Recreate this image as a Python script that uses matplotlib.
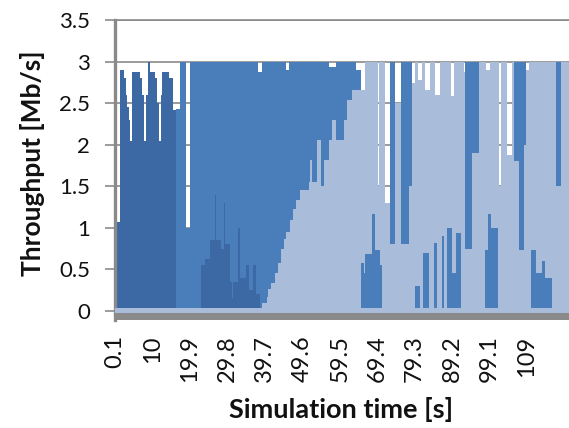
import numpy as np
import matplotlib.pyplot as plt

plt.rcParams['font.family'] = ['Lato', 'DejaVu Sans']

t_end = 120.1

# flow 1 (dark), bottom of the stack
d_t = [0.1, 1.5, 2.4, 2.9, 3.3, 3.8, 4.0, 4.5, 6.6, 7.3, 7.8, 8.3, 8.7, 8.9, 9.3,
       10.6, 11.3, 11.7, 12.2, 12.6, 14.3, 15.3, 16.3, 22.8, 24.0, 25.3, 26.5,
       26.8, 28.0, 29.0, 29.3, 30.5, 31.0, 31.4, 32.6, 33.1, 34.6, 35.4, 36.7,
       37.5, 38.5]
d_v = [1.07, 2.9, 2.8, 2.6, 2.45, 2.3, 2.04, 2.88, 2.8, 2.6, 2.04, 2.6, 2.88, 3.0, 2.88,
       2.8, 2.5, 2.04, 2.6, 2.88, 2.8, 2.42, 0, 0.55, 0.62, 0.85, 1.4,
       0.85, 0.75, 1.3, 0.8, 0.35, 0.15, 0.35, 1.0, 0.4, 0.55, 0.25, 0.55,
       0.2, 0]

# flow 2 (medium) when it sits under flow 3
mb_t = [0.1, 65.0, 65.9, 66.3, 68.1, 68.9, 70.1, 70.7, 79.4, 80.8, 81.6, 83.0,
        84.3, 85.2, 86.4, 87.0, 87.9, 89.1, 90.3, 91.6, 97.8, 98.7, 99.6, 101.3,
        110.0, 111.3, 113.0, 113.8, 115.7]
mb_v = [0, 0.57, 0.45, 0.69, 1.16, 0.73, 0.55, 0, 0.3, 0, 0.7, 0,
        0.82, 0, 0.9, 0, 1.0, 0.45, 0.94, 0, 0.73, 1.16, 1.0, 0,
        0.73, 0.45, 0.6, 0.4, 0]

# flow 3 (light)
l_t = [0.1, 38.9, 40.2, 40.5, 41.4, 42.3, 43.2, 44.1, 44.8, 45.4, 46.3, 47.2, 48.0,
       48.9, 51.4, 51.6, 52.2, 53.4, 54.5, 55.3, 56.6, 57.5, 58.4, 60.6, 61.5, 62.8,
       65.0, 65.9, 66.3, 68.1, 68.9, 69.5, 70.0, 70.1, 70.7, 71.4, 72.8, 74.2, 75.6,
       77.7, 78.5, 79.4, 80.3, 80.8, 81.2, 81.6, 82.1, 83.0, 83.4, 84.3, 84.7, 85.2,
       86.0, 86.4, 87.0, 87.9, 88.8, 89.1, 89.7, 90.3, 91.6, 92.3, 92.6, 92.7, 94.4,
       96.2, 97.8, 98.2, 98.7, 99.1, 99.6, 101.3, 101.5, 102.0, 103.6, 105.1, 105.6,
       106.9, 108.3, 108.7, 109.4, 110.0, 111.3, 113.0, 113.8, 115.7, 116.6, 117.9]
l_v = [0, 0.1, 0.17, 0.26, 0.34, 0.46, 0.58, 0.74, 0.87, 0.95, 1.09, 1.22, 1.34,
       1.46, 1.55, 1.82, 1.55, 2.06, 1.5, 1.82, 2.06, 2.3, 2.06, 2.3, 2.54, 2.66,
       2.09, 2.21, 2.31, 1.84, 2.27, 0.77, 2.27, 2.45, 3.0, 1.3, 0.8, 2.5, 0.8,
       1.5, 2.74, 2.7, 2.48, 2.78, 3.0, 2.3, 1.96, 2.66, 3.0, 2.18, 1.78, 2.6,
       3.0, 2.1, 3.0, 2.0, 1.58, 2.13, 2.55, 2.06, 3.0, 2.87, 3.0, 0.75, 1.9,
       3.0, 2.27, 2.17, 1.74, 1.84, 2.0, 3.0, 1.5, 3.0, 1.88, 3.0, 1.8,
       0.73, 2.0, 2.9, 3.0, 2.27, 2.55, 2.4, 2.6, 3.0, 1.5, 3.0]

# flow 2 (medium) on top of the stack
m_t = [0.1, 16.3, 17.2, 18.9, 19.8, 22.8, 24.0, 25.3, 26.5, 26.8, 28.0, 29.0, 29.3,
       30.5, 31.0, 31.4, 32.6, 33.1, 34.6, 35.4, 36.7, 37.5, 37.9, 38.5, 38.9, 40.2,
       40.5, 41.4, 42.3, 43.2, 44.1, 44.8, 45.4, 46.2, 46.3, 47.2, 48.0, 48.9, 51.4,
       51.6, 52.2, 53.4, 54.5, 55.3, 56.6, 57.5, 58.4, 60.6, 61.5, 62.8, 63.7, 65.0,
       72.8, 74.2, 75.6, 77.7, 78.5, 92.7, 94.4, 96.2, 105.6, 106.9, 108.3, 108.7,
       116.6, 117.9]
m_v = [0, 2.43, 3.0, 1.0, 3.0, 2.45, 2.38, 2.15, 1.6, 2.15, 2.25, 1.7, 2.2,
       2.65, 2.85, 2.65, 2.0, 2.6, 2.45, 2.75, 2.45, 2.8, 2.68, 2.88, 2.9, 2.83,
       2.74, 2.66, 2.54, 2.42, 2.26, 2.13, 1.95, 2.05, 1.91, 1.78, 1.66, 1.54, 1.45,
       1.18, 1.45, 0.94, 1.5, 1.18, 0.87, 0.63, 0.94, 0.7, 0.46, 0.34, 0.24, 0,
       2.2, 0, 2.2, 1.5, 0, 2.25, 1.1, 0, 1.2, 2.27, 1.0, 0,
       1.5, 0]

tick_t = [0.1, 10, 19.9, 29.8, 39.7, 49.6, 59.5, 69.4, 79.3, 89.2, 99.1, 109]
tick_labels = ['0.1', '10', '19.9', '29.8', '39.7', '49.6', '59.5', '69.4',
               '79.3', '89.2', '99.1', '109']

dark = '#3c69a3'
medium = '#4a7ebb'
light = '#a9bcd9'
gray = '#8a8a8a'
ink = '#111111'


def step_values(tb, vb, grid):
    idx = np.searchsorted(tb, grid, side='right') - 1
    return np.asarray(vb, dtype=float)[idx]


grid = np.unique(np.concatenate([d_t, mb_t, l_t, m_t, [t_end]]))
layers = [(d_t, d_v, dark), (mb_t, mb_v, medium), (l_t, l_v, light), (m_t, m_v, medium)]

fig = plt.figure(figsize=(5.69, 4.28), dpi=100)
ax = fig.add_axes([115 / 569, 1 - 320 / 428, 454 / 569, 300 / 428])

lower = np.zeros_like(grid)
for tb, vb, c in layers:
    upper = lower + step_values(tb, vb, grid)
    ax.fill_between(grid, lower, upper, step='post', color=c, lw=0, zorder=2)
    lower = upper

# axis band along the bottom
ax.axhspan(-0.03, 0.035, color=light, lw=0, zorder=3)
ax.axhspan(-0.11, -0.03, color=gray, lw=0, zorder=3)

ax.set_xlim(0.1, t_end)
ax.set_ylim(-0.11, 3.5)
ax.set_yticks(np.arange(0, 3.51, 0.5))
ax.set_yticklabels(['0', '0.5', '1', '1.5', '2', '2.5', '3', '3.5'])
ax.yaxis.grid(True, color=gray, lw=1.2, zorder=0)
ax.set_axisbelow(True)
ax.tick_params(axis='y', length=7, width=1.2, color=gray, pad=11,
               labelsize=16, labelcolor=ink)
ax.set_xticks(tick_t)
ax.set_xticklabels(tick_labels, rotation=90)
ax.tick_params(axis='x', length=0, pad=11, labelsize=17, labelcolor=ink)

ax.spines['left'].set_color(gray)
ax.spines['left'].set_linewidth(2.4)
ax.spines['top'].set_color(gray)
ax.spines['top'].set_linewidth(1.2)
ax.spines['right'].set_visible(False)
ax.spines['bottom'].set_visible(False)

fig.text(33 / 569, 1 - 163 / 428, 'Throughput [Mb/s]', rotation=90,
         ha='center', va='center', fontsize=19, fontweight='bold', color=ink)
fig.text(341 / 569, 1 - 410 / 428, 'Simulation time [s]',
         ha='center', va='center', fontsize=19.5, fontweight='bold', color=ink)

fig.savefig('out.png', dpi=100)
